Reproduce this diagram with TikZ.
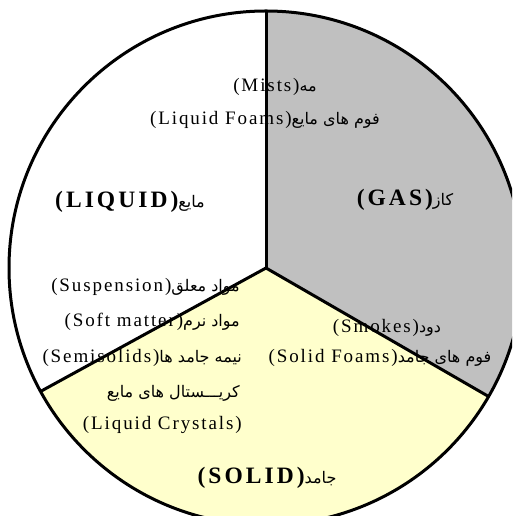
\documentclass[tikz,border=0pt]{standalone}
\usepackage{fontspec}
\TeXXeTstate=1
\newfontfamily\lat{Liberation Serif}[LetterSpace=10]
\newfontfamily\latb{Liberation Serif}[LetterSpace=13]
\newfontfamily\fa[Script=Arabic]{DejaVu Sans}
\newcommand{\fatxt}[1]{{\fa\mdseries\fontsize{16}{18}\selectfont\beginR #1\endR}}
\definecolor{gasfill}{HTML}{C0C0C0}
\definecolor{solidfill}{HTML}{FFFFCC}
\begin{document}
\begin{tikzpicture}[x=1pt,y=1pt,
  lbl/.style={inner sep=0pt, font=\lat\fontsize{19}{22}\selectfont, text=black},
  head/.style={inner sep=0pt, font=\latb\bfseries\fontsize{23.5}{27}\selectfont, text=black},
  edge/.style={line width=3pt, draw=black}]
\useasboundingbox (0,0) rectangle (512,516);
\clip (0,0) rectangle (512,516);
\fill[white] (0,0) rectangle (512,516);
\coordinate (C) at (266,248);
\path (C) ++(90:257) coordinate (top);
\path (C) ++(208.7:257) coordinate (bl);
\path (C) ++(-30:257) coordinate (br);
\fill[gasfill] (C) -- (top) arc[start angle=90, end angle=-30, radius=257] -- cycle;
\fill[solidfill] (C) -- (bl) arc[start angle=208.7, end angle=330, radius=257] -- cycle;
% texts
\node[lbl] (mists) at (275,429) {(Mists)\fatxt{مه}};
\node[lbl] (lfoams) at (265,396) {(Liquid Foams)\fatxt{فوم های مایع}};
\node[head] (liquid) at (130,314) {(LIQUID)\fatxt{مایع}};
\node[head] (gas) at (405,316) {(GAS)\fatxt{کاز}};
\node[lbl, anchor=east] (susp) at (240,229) {(Suspension)\fatxt{مواد معلق}};
\node[lbl, anchor=east] (soft) at (240,194) {(Soft matter)\fatxt{مواد نرم}};
\node[lbl, anchor=east] (semi) at (242,158) {(Semisolids)\fatxt{نیمه جامد ها}};
\node[lbl, anchor=east] (kris) at (240,123) {\fatxt{کریـــستال های مایع}};
\node[lbl, anchor=east] (lcrys) at (242,91) {(Liquid Crystals)};
\node[head] (solid) at (267,38) {(SOLID)\fatxt{جامد}};
\node[lbl] (smokes) at (387,188) {(Smokes)\fatxt{دود}};
\node[lbl] (sfoams) at (380,158) {(Solid Foams)\fatxt{فوم های جامد}};
% outline and dividers
\draw[edge] (C) circle[radius=257];
\draw[edge] (C) -- (top);
\draw[edge] (C) -- (bl);
\draw[edge] (C) -- (br);
\end{tikzpicture}
\end{document}
